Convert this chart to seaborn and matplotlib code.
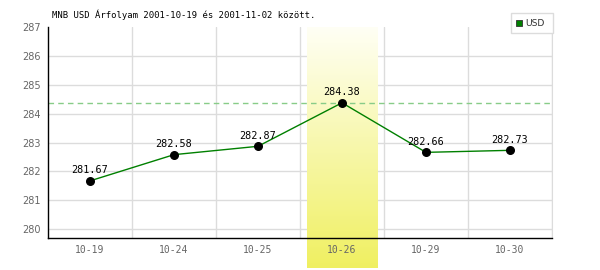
import numpy as np
import pandas as pd
import matplotlib
matplotlib.use("Agg")
import matplotlib.pyplot as plt
import seaborn as sns
from matplotlib.patches import Rectangle

# ---- data ----
dates = ["10-19", "10-24", "10-25", "10-26", "10-29", "10-30"]
usd_rates = [281.67, 282.58, 282.87, 284.38, 282.66, 282.73]
highlight_label = "10-26"
y_ticks = [280, 281, 282, 283, 284, 285, 286, 287]
title_text = "MNB USD Árfolyam 2001-10-19 és 2001-11-02 között."
series_name = "USD"

df = pd.DataFrame({"idx": np.arange(len(dates)), "date": dates, "rate": usd_rates})

sns.set_style("white")
plt.rcParams["font.family"] = ["DejaVu Sans Mono", "DejaVu Sans"]

fig = plt.figure(figsize=(6, 2.7), dpi=100)
ax = fig.add_axes([48 / 600, 1 - 238 / 270, (552 - 48) / 600, (238 - 27.3) / 270])

ymin, ymax = 280 - 9 / 28.8, 287

# grid
for b in np.arange(-0.5, len(dates) + 0.5, 1.0)[1:]:
    ax.axvline(b, color="#dcdcdc", lw=1, zorder=0)
for t in y_ticks[:-1]:
    ax.axhline(t, color="#dcdcdc", lw=1, zorder=0)

# highlight band with gradient
hi = dates.index(highlight_label)
half = 0.4226
grad = np.linspace(0, 1, 256).reshape(-1, 1)
top_c = np.array([1.0, 1.0, 0.96])
bot_c = np.array([0.94, 0.94, 0.38])
img = top_c[None, None, :] * (1 - grad[:, :, None]) + bot_c[None, None, :] * grad[:, :, None]
band_bottom = 280 - (268 - 229) / 28.8
ax.imshow(img, extent=[hi - half, hi + half, band_bottom, ymax], aspect="auto",
          origin="upper", zorder=1, clip_on=False)
ax.set_xlim(-0.5, len(dates) - 0.5)
ax.set_ylim(ymin, ymax)

# max dashed line
ax.axhline(max(usd_rates), color="#88cc88", lw=1, ls=(0, (4, 3)), zorder=2)

# series
sns.lineplot(data=df, x="idx", y="rate", ax=ax, color="#008000", lw=1, zorder=3,
             legend=False)
ax.scatter(df["idx"], df["rate"], s=30, color="black", zorder=4)
for i, v in enumerate(usd_rates):
    ax.annotate(f"{v:.2f}", (i, v), xytext=(0, 4), textcoords="offset points",
                ha="center", va="bottom", fontsize=7.3, color="black", zorder=5)

ax.set_xticks(df["idx"])
ax.set_xticklabels(dates)
ax.set_yticks(y_ticks)
ax.tick_params(axis="both", length=0, labelsize=7, labelcolor="#666666")
ax.tick_params(axis="x", pad=5)
ax.tick_params(axis="y", pad=5)
for lbl in ax.get_yticklabels():
    lbl.set_family(["DejaVu Sans"])
ax.xaxis.set_zorder(7)
ax.yaxis.set_zorder(7)
ax.set_xlabel("")
ax.set_ylabel("")

ax.spines["top"].set_visible(False)
ax.spines["right"].set_color("#dcdcdc")
ax.spines["left"].set_color("black")
ax.spines["bottom"].set_color("black")
ax.spines["left"].set_linewidth(1)
ax.spines["bottom"].set_linewidth(1)
ax.spines["left"].set_zorder(6)
ax.spines["bottom"].set_zorder(6)

fig.text(52 / 600, 1 - 15 / 270, title_text, fontsize=6.4, color="black",
         va="center", ha="left")

# legend box
fig.patches.append(Rectangle((511 / 600, 1 - 33 / 270), 42 / 600, 20 / 270,
                             transform=fig.transFigure, facecolor="white",
                             edgecolor="#dcdcdc", lw=1))
fig.patches.append(Rectangle((515.5 / 600, 1 - 26 / 270), 6 / 600, 6 / 270,
                             transform=fig.transFigure, facecolor="#008000",
                             edgecolor="#333333", lw=0.6))
fig.text(525 / 600, 1 - 23 / 270, series_name, fontsize=6.6, color="#333333",
         va="center", ha="left", family=["DejaVu Sans"])

fig.savefig("out.png", dpi=100)
